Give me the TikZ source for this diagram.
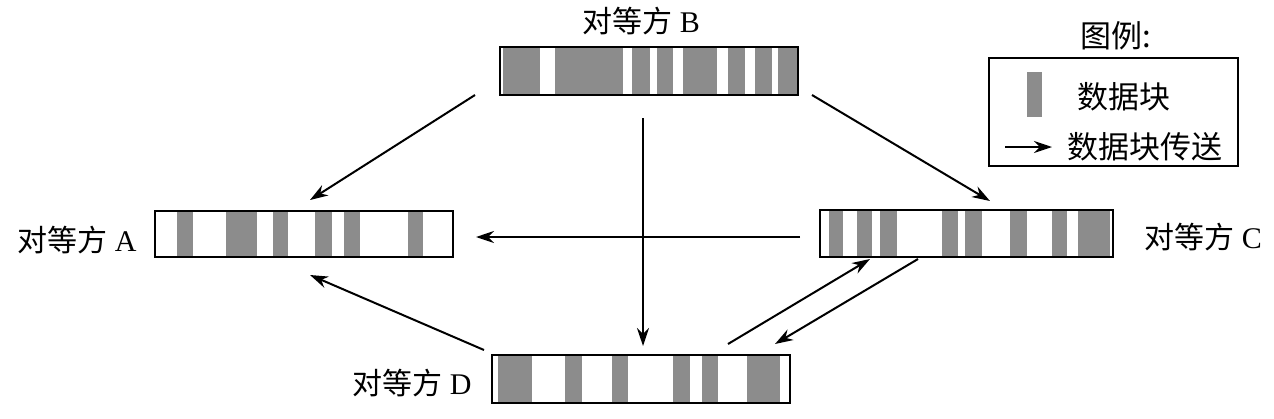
\documentclass[tikz,border=0pt]{standalone}
\usepackage{fontspec}
\setmainfont{Liberation Serif}
\newfontfamily\cjk{Noto Sans CJK SC}
\usetikzlibrary{arrows.meta,calc}
\definecolor{stripegray}{RGB}{140,140,140}
\tikzset{
  peerbox/.style={draw=black,line width=2.2pt,minimum height=48pt,inner sep=0pt},
  stripe/.style={fill=stripegray},
  lbl/.style={font=\fontsize{30}{34}\selectfont,inner sep=0pt},
  lgd/.style={font=\fontsize{31}{34}\selectfont,inner sep=0pt},
  xfer/.style={line width=2pt,-{Stealth[length=18pt,width=12pt]}},
}
\begin{document}
\begin{tikzpicture}[x=1pt,y=-1pt]
\useasboundingbox (0,0) rectangle (1274,418);
% stripes
\foreach \a/\b in {503/540,555/623,632/650,657/673,683/717,728/745,755/772,778/797}
  \fill[stripe] (\a,48) rectangle (\b,94);
\foreach \a/\b in {177/193,226/257,273/288,315/332,344/360,408/423}
  \fill[stripe] (\a,212) rectangle (\b,256);
\foreach \a/\b in {829/843,857/872,880/897,942/958,965/982,1010/1027,1052/1067,1078/1110}
  \fill[stripe] (\a,211) rectangle (\b,256);
\foreach \a/\b in {498/532,565/582,612/628,673/690,702/718,747/780}
  \fill[stripe] (\a,356) rectangle (\b,402);
% boxes
\node[peerbox,minimum width=298pt] (B) at (649,71) {};
\node[peerbox,minimum width=298pt,minimum height=46pt] (A) at (304,234) {};
\node[peerbox,minimum width=293pt,minimum height=47pt] (C) at (966.5,233.5) {};
\node[peerbox,minimum width=298pt] (D) at (641,379) {};
% labels
\node[lbl] (lB) at (641,21) {{\cjk 对等方} B};
\node[lbl] (lA) at (77,240) {{\cjk 对等方} A};
\node[lbl] (lC) at (1203,237) {{\cjk 对等方} C};
\node[lbl] (lD) at (412,383) {{\cjk 对等方} D};
% arrow end points
\coordinate (bA1) at (475,95);  \coordinate (bA2) at (310,200);
\coordinate (bC1) at (812,95);  \coordinate (bC2) at (990,201);
\coordinate (bD1) at (643,118); \coordinate (bD2) at (643,346);
\coordinate (cA1) at (800,237); \coordinate (cA2) at (476,237);
\coordinate (dA1) at (484,350); \coordinate (dA2) at (310,275);
\coordinate (dC1) at (728,344); \coordinate (dC2) at (870,259);
\coordinate (cD1) at (918,259); \coordinate (cD2) at (775,344);
\draw[xfer] (bA1) -- (bA2);
\draw[xfer] (bC1) -- (bC2);
\draw[xfer] (bD1) -- (bD2);
\draw[xfer] (cA1) -- (cA2);
\draw[xfer] (dA1) -- (dA2);
\draw[xfer] (dC1) -- (dC2);
\draw[xfer] (cD1) -- (cD2);
% legend
\node[lgd] (lt) at (1116,36) {\cjk 图例:};
\node[draw=black,line width=1.4pt,minimum width=249pt,minimum height=108pt,inner sep=0pt] (leg) at (1113.5,112) {};
\fill[stripe] (1027,72) rectangle (1042,117);
\node[lgd] (l1) at (1124,97) {\cjk 数据块};
\coordinate (la1) at (1005,147); \coordinate (la2) at (1052,147);
\draw[xfer] (la1) -- (la2);
\node[lgd] (l2) at (1145,147) {\cjk 数据块传送};
\end{tikzpicture}
\end{document}
